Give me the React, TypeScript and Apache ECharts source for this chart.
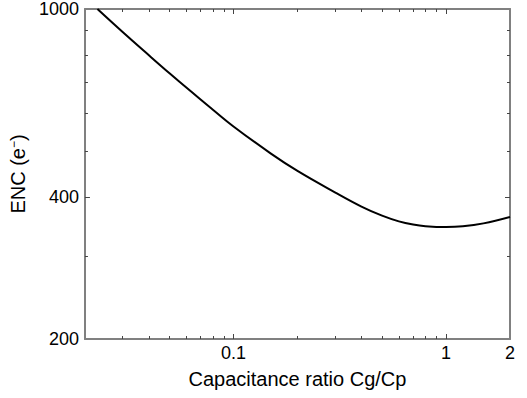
import React, { useEffect, useRef } from "react";
import * as echarts from "echarts";

const ratio = [0.0229, 0.03, 0.04, 0.05, 0.06, 0.07, 0.08, 0.1, 0.15, 0.2, 0.3, 0.4, 0.5, 0.6, 0.7, 0.8, 1.0, 1.2, 1.5, 2.0];
const enc = [1000, 895, 798, 731, 682, 643, 612, 564, 494, 454, 409, 381.5, 365, 355, 349.5, 346.7, 345.2, 346.5, 351.5, 362.7];

const xMin = 0.02;
const xMax = 2;
const yMin = 200;
const yMax = 1000;
const xLabelValues = [0.1, 1, 2];
const xMajorTicks = [0.1, 1];
const xMinorTicks = [0.03, 0.04, 0.05, 0.06, 0.07, 0.08, 0.09, 0.2, 0.3, 0.4, 0.5, 0.6, 0.7, 0.8, 0.9];
const yLabelValues = [200, 400, 1000];
const yMajorTicks = [400];
const yMinorTicks = [300, 500, 600, 700, 800, 900];

const FONT = "Liberation Sans, Arial, Helvetica, sans-serif";

export default function App() {
  const ref = useRef<HTMLDivElement>(null);
  useEffect(() => {
    if (!ref.current) return;
    const chart = echarts.init(ref.current, null, { renderer: "svg" });
    const fmt = (v: number) => String(+Number(v).toPrecision(3));
    const lineStyle = { color: "#808080", width: 2 };
    const tickStyle = { color: "#444", width: 1 };
    const baseX = (pos: "bottom" | "top", ticks: number[], len: number, showLine: boolean, labels: boolean, name?: string) => ({
      type: "log",
      logBase: 10,
      min: xMin,
      max: xMax,
      position: pos,
      gridIndex: 0,
      name: name || "",
      nameLocation: "middle",
      nameGap: 30,
      nameTextStyle: { fontFamily: FONT, fontSize: 20, color: "#000" },
      axisLine: { show: showLine, lineStyle },
      axisTick: { show: true, inside: true, length: len, customValues: ticks, lineStyle: tickStyle },
      axisLabel: labels
        ? { show: true, customValues: xLabelValues, formatter: fmt, fontFamily: FONT, fontSize: 18, color: "#000", margin: 5 }
        : { show: false },
      splitLine: { show: false },
      minorTick: { show: false },
    });
    const baseY = (pos: "left" | "right", ticks: number[], len: number, showLine: boolean, labels: boolean, name?: string) => ({
      type: "log",
      logBase: 10,
      min: yMin,
      max: yMax,
      position: pos,
      gridIndex: 0,
      name: name || "",
      nameLocation: "middle",
      nameGap: 50,
      nameRotate: 90,
      nameTextStyle: {
        fontFamily: FONT,
        fontSize: 20,
        color: "#000",
        rich: { sup: { fontFamily: FONT, fontSize: 12, color: "#000", verticalAlign: "top" } },
      },
      axisLine: { show: showLine, lineStyle },
      axisTick: { show: true, inside: true, length: len, customValues: ticks, lineStyle: tickStyle },
      axisLabel: labels
        ? { show: true, customValues: yLabelValues, formatter: fmt, fontFamily: FONT, fontSize: 18, color: "#000", margin: 6 }
        : { show: false },
      splitLine: { show: false },
      minorTick: { show: false },
    });
    chart.setOption({
      animation: false,
      backgroundColor: "#fff",
      grid: { left: 82, right: 17, top: 9, bottom: 59, containLabel: false },
      xAxis: [
        baseX("bottom", xMajorTicks, 5, true, true, "Capacitance ratio Cg/Cp"),
        baseX("bottom", xMinorTicks, 3, false, false),
        baseX("top", xMajorTicks, 5, true, false),
        baseX("top", xMinorTicks, 3, false, false),
      ],
      yAxis: [
        baseY("left", yMajorTicks, 5, true, true, "ENC (e{sup|−})"),
        baseY("left", yMinorTicks, 3, false, false),
        baseY("right", yMajorTicks, 5, true, false),
        baseY("right", yMinorTicks, 3, false, false),
      ],
      series: [
        {
          type: "line",
          xAxisIndex: 0,
          yAxisIndex: 0,
          data: ratio.map((r, i) => [r, enc[i]]),
          showSymbol: false,
          smooth: 0.4,
          lineStyle: { color: "#000", width: 2 },
          clip: true,
        },
      ],
    });
    return () => chart.dispose();
  }, []);
  return <div ref={ref} style={{ position: "fixed", left: 0, top: 0, width: 527, height: 398 }} />;
}
